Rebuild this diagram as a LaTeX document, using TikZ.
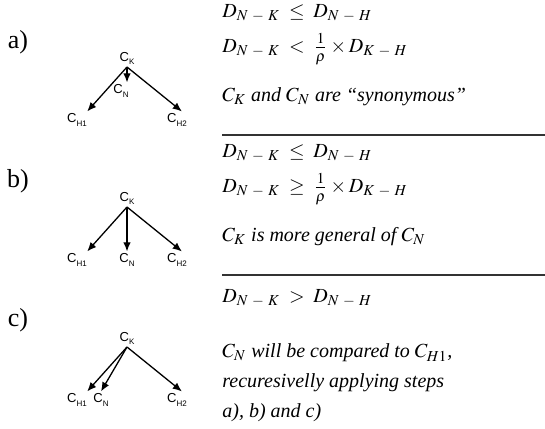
\documentclass[tikz,border=0pt]{standalone}
\usepackage{mathptmx}
\usepackage[no-math]{fontspec}
\setmainfont{Liberation Serif}
\setsansfont{Liberation Sans}
\usetikzlibrary{arrows.meta}
\DeclareMathSizes{10}{10}{7.6}{6}

\newcommand{\cl}[1]{C\raisebox{-1.6pt}{\fontsize{4}{4}\selectfont #1}}
\newcommand{\dist}[2]{D_{#1\mskip5mu-\mskip5mu#2}}
\newcommand{\invrho}{\frac{\raisebox{0.9pt}{$\scriptstyle 1$}}{\lower0.9pt\hbox{$\scriptstyle\rho$}}}

\begin{document}
\begin{tikzpicture}[
        x=0.5pt, y=-0.5pt,
        tag/.style={font=\fontsize{13}{15}\selectfont, inner sep=0pt},
        cls/.style={font=\sffamily\fontsize{6.5}{7}\selectfont, inner sep=1pt},
        txt/.style={anchor=west, inner sep=0pt, font=\fontsize{10}{12}\selectfont},
        rule/.style={line width=0.6pt, draw=black!80},
        arr/.style={-{Latex[length=4.6pt,width=3.8pt]}, line width=0.65pt}
    ]
    \useasboundingbox (0,0) rectangle (545,428);

    % Case a
    \node[tag] (taga) at (18,42) {a)};
    \node[cls, anchor=south] (ka) at (127,67) {\cl{K}};
    \node[cls] (h1a) at (77,120) {\cl{H1}};
    \node[cls] (na)  at (121,91) {\cl{N}};
    \node[cls] (h2a) at (177,120) {\cl{H2}};

    \draw[arr] (ka.south) -- (h1a.40);
    \draw[arr] (ka.south) -- (ka.south |- na.north);
    \draw[arr] (ka.south) -- (h2a.60);

    \node[txt] (d1a) at (222,13) {$\dist{N}{K} \;\leq\; \dist{N}{H}$};
    \node[txt] (d2a) at (222,49) {$\dist{N}{K} \;<\; \invrho \times \dist{K}{H}$};
    \node[txt] (ca)  at (222,97) {\textit{$C_K$ and $C_N$ are ``synonymous''}};
    \draw[rule] (222,135) -- (545,135);

    % Case b
    \node[tag] (tagb) at (18,181) {b)};
    \node[cls, anchor=south] (kb) at (127,207) {\cl{K}};
    \node[cls] (h1b) at (77,260) {\cl{H1}};
    \node[cls] (nb)  at (127,260) {\cl{N}};
    \node[cls] (h2b) at (177,260) {\cl{H2}};

    \draw[arr] (kb.south) -- (h1b.40);
    \draw[arr] (kb.south) -- (kb.south |- nb.north);
    \draw[arr] (kb.south) -- (h2b.60);

    \node[txt] (d1b) at (222,153) {$\dist{N}{K} \;\leq\; \dist{N}{H}$};
    \node[txt] (d2b) at (222,189) {$\dist{N}{K} \;\geq\; \invrho \times \dist{K}{H}$};
    \node[txt] (cb)  at (222,237) {\textit{$C_K$ is more general of $C_N$}};
    \draw[rule] (222,275) -- (545,275);

    % Case c
    \node[tag] (tagc) at (18,320) {c)};
    \node[cls, anchor=south] (kc) at (127,347) {\cl{K}};
    \node[cls] (h1c) at (77,400) {\cl{H1}};
    \node[cls] (nc)  at (101,400) {\cl{N}};
    \node[cls] (h2c) at (177,400) {\cl{H2}};

    \draw[arr] (kc.south) -- (h1c.40);
    \draw[arr] (kc.south) -- (nc.north);
    \draw[arr] (kc.south) -- (h2c.60);

    \node[txt] (d1c) at (222,298) {$\dist{N}{K} \;>\; \dist{N}{H}$};
    \node[txt] (c1c) at (222,353) {\textit{$C_N$ will be compared to $C_{H1}$,}};
    \node[txt] (c2c) at (222,383) {\textit{recuresivelly applying steps}};
    \node[txt] (c3c) at (222,413) {\textit{a), b) and c)}};

\end{tikzpicture}
\end{document}
